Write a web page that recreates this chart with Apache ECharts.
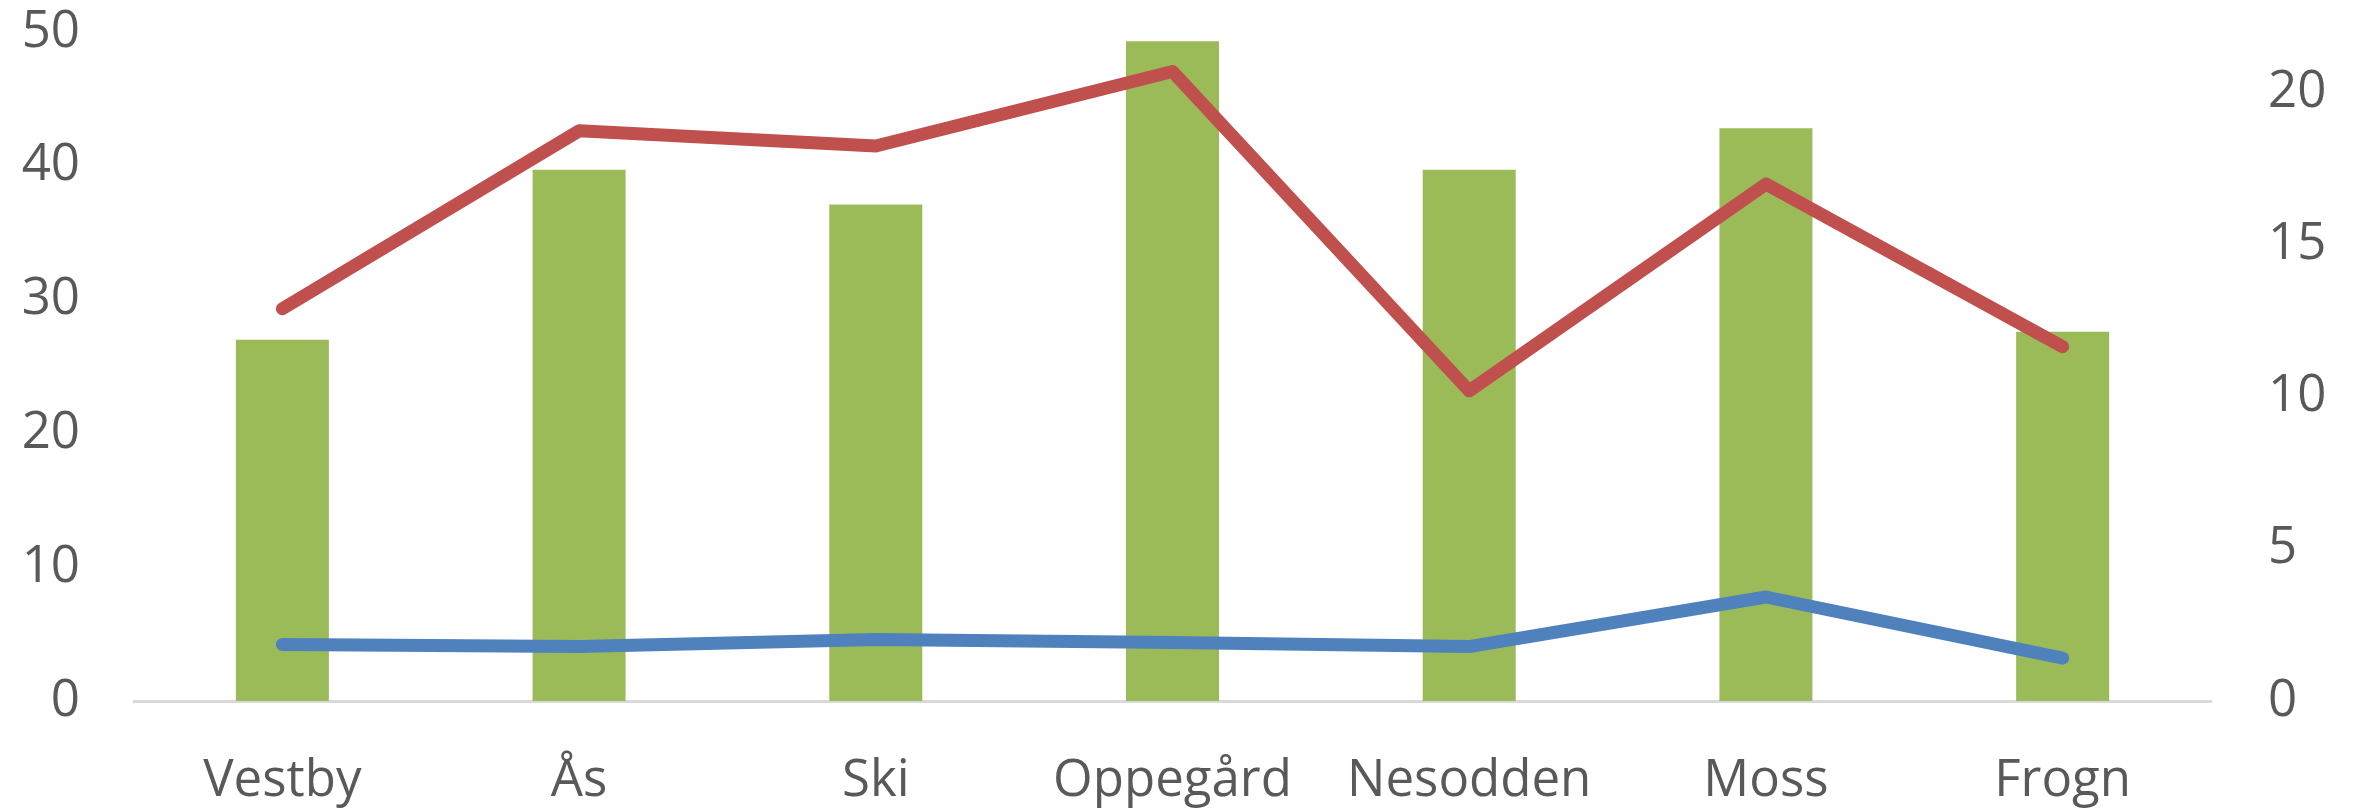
<!DOCTYPE html>
<html>
<head>
<meta charset="utf-8">
<script src="https://cdn.jsdelivr.net/npm/echarts@6/dist/echarts.min.js"></script>
<style>
html,body{margin:0;padding:0;background:#fff;}
#chart{width:2356px;height:809px;}
</style>
</head>
<body>
<div id="chart"></div>
<script>
const categories = ['Vestby', 'Ås', 'Ski', 'Oppegård', 'Nesodden', 'Moss', 'Frogn'];
const barValues = [27.0, 39.7, 37.1, 49.3, 39.7, 42.8, 27.6];
const redValues = [12.9, 18.75, 18.25, 20.7, 10.2, 17.0, 11.65];
const blueValues = [1.86, 1.79, 2.02, 1.92, 1.79, 3.42, 1.41];
const leftTicks = {min: 0, max: 50, interval: 10};
const rightTicks = {min: 0, max: 22, interval: 5};

const FONT = '"Open Sans", "Noto Sans", sans-serif';
const chart = echarts.init(document.getElementById('chart'));
chart.setOption({
  animation: false,
  backgroundColor: '#ffffff',
  grid: {left: 134, right: 145, top: 32, bottom: 108, containLabel: false},
  xAxis: {
    type: 'category',
    data: categories,
    axisLine: {show: true, lineStyle: {color: '#D9D9D9', width: 3}},
    axisTick: {show: false},
    axisLabel: {color: '#595959', fontSize: 51, fontFamily: FONT, margin: 55, interval: 0}
  },
  yAxis: [
    {
      type: 'value', min: leftTicks.min, max: leftTicks.max, interval: leftTicks.interval,
      axisLine: {show: false}, axisTick: {show: false}, splitLine: {show: false},
      axisLabel: {color: '#595959', fontSize: 51, fontFamily: FONT, margin: 54}
    },
    {
      type: 'value', min: rightTicks.min, max: rightTicks.max, interval: rightTicks.interval,
      position: 'right',
      axisLine: {show: false}, axisTick: {show: false}, splitLine: {show: false},
      axisLabel: {color: '#595959', fontSize: 51, fontFamily: FONT, margin: 57, showMaxLabel: false}
    }
  ],
  series: [
    {
      type: 'bar', data: barValues, yAxisIndex: 0, barWidth: 93,
      itemStyle: {color: '#9BBB59'}, z: 1
    },
    {
      type: 'line', data: redValues, yAxisIndex: 1, symbol: 'none', smooth: false,
      lineStyle: {color: '#C0504D', width: 13, cap: 'round', join: 'round'}, z: 3
    },
    {
      type: 'line', data: blueValues, yAxisIndex: 1, symbol: 'none', smooth: false,
      lineStyle: {color: '#4F81BD', width: 13, cap: 'round', join: 'round'}, z: 3
    }
  ]
});
</script>
</body>
</html>
